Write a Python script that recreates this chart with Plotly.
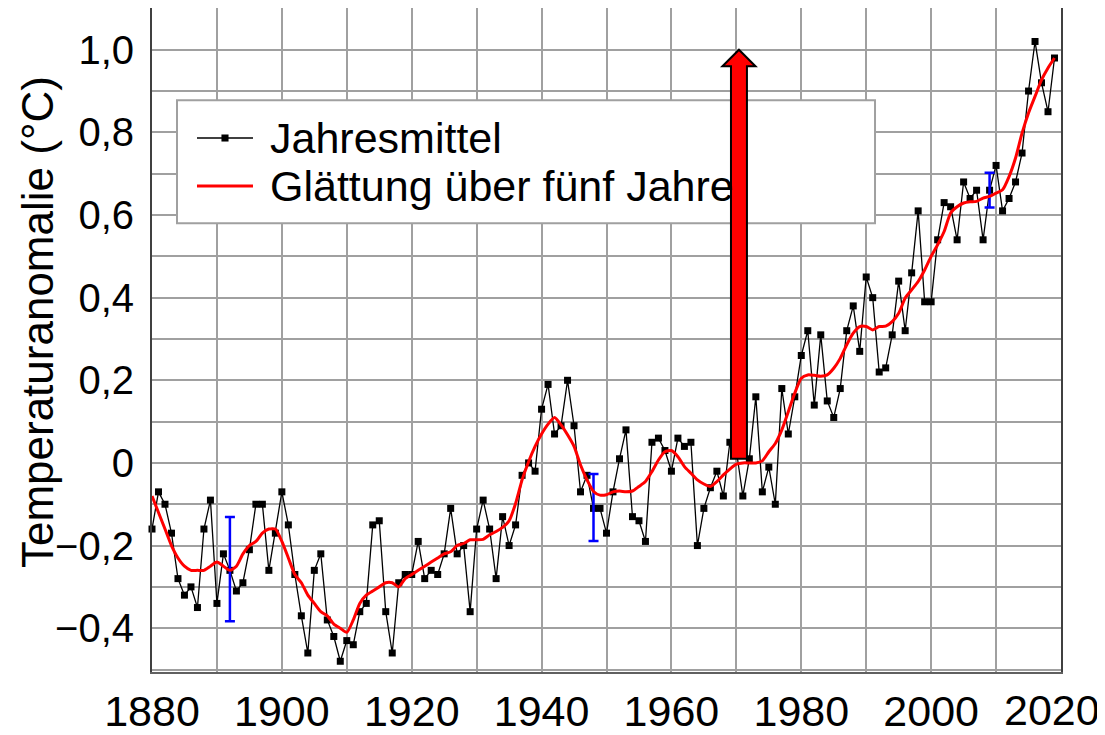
import plotly.graph_objects as go

# ---------------- data ----------------
years = list(range(1880, 2020))
annual = [
    -0.16, -0.07, -0.10, -0.17, -0.28, -0.32, -0.30, -0.35, -0.16, -0.09,
    -0.34, -0.22, -0.26, -0.31, -0.29, -0.21, -0.10, -0.10, -0.26, -0.17,
    -0.07, -0.15, -0.27, -0.37, -0.46, -0.26, -0.22, -0.38, -0.42, -0.48,
    -0.43, -0.44, -0.36, -0.34, -0.15, -0.14, -0.36, -0.46, -0.29, -0.27,
    -0.27, -0.19, -0.28, -0.26, -0.27, -0.22, -0.11, -0.22, -0.20, -0.36,
    -0.16, -0.09, -0.16, -0.28, -0.13, -0.20, -0.15, -0.03, 0.00, -0.02,
    0.13, 0.19, 0.07, 0.09, 0.20, 0.09, -0.07, -0.03, -0.11, -0.11,
    -0.17, -0.07, 0.01, 0.08, -0.13, -0.14, -0.19, 0.05, 0.06, 0.03,
    -0.02, 0.06, 0.04, 0.05, -0.20, -0.11, -0.06, -0.02, -0.08, 0.05,
    0.03, -0.08, 0.01, 0.16, -0.07, -0.01, -0.10, 0.18, 0.07, 0.16,
    0.26, 0.32, 0.14, 0.31, 0.15, 0.11, 0.18, 0.32, 0.38, 0.27,
    0.45, 0.40, 0.22, 0.23, 0.31, 0.44, 0.32, 0.46, 0.61, 0.39,
    0.39, 0.54, 0.63, 0.62, 0.54, 0.68, 0.64, 0.66, 0.54, 0.66,
    0.72, 0.61, 0.64, 0.68, 0.75, 0.90, 1.02, 0.92, 0.85, 0.98,
]
smooth = [
    -0.08, -0.12, -0.16, -0.20, -0.23, -0.25, -0.26, -0.26, -0.26, -0.25,
    -0.24, -0.25, -0.26, -0.25, -0.22, -0.20, -0.19, -0.17, -0.16, -0.16,
    -0.19, -0.23, -0.27, -0.29, -0.32, -0.34, -0.36, -0.37, -0.39, -0.40,
    -0.41, -0.38, -0.34, -0.32, -0.31, -0.30, -0.29, -0.29, -0.30, -0.28,
    -0.27, -0.26, -0.25, -0.24, -0.23, -0.22, -0.215, -0.20, -0.195, -0.186,
    -0.186, -0.185, -0.174, -0.166, -0.156, -0.14, -0.098, -0.041, 0.003, 0.04,
    0.07, 0.094, 0.11, 0.092, 0.068, 0.04, -0.005, -0.041, -0.069, -0.078,
    -0.077, -0.07, -0.068, -0.07, -0.068, -0.057, -0.045, -0.021, 0.007, 0.027,
    0.03, 0.015, -0.009, -0.025, -0.041, -0.051, -0.057, -0.045, -0.029, -0.015,
    -0.003, 0.0, 0.0, 0.0, 0.005, 0.027, 0.047, 0.08, 0.124, 0.169,
    0.205, 0.213, 0.212, 0.21, 0.213, 0.229, 0.253, 0.286, 0.314, 0.33,
    0.33, 0.322, 0.33, 0.331, 0.342, 0.362, 0.399, 0.419, 0.439, 0.467,
    0.50, 0.528, 0.56, 0.605, 0.62, 0.629, 0.632, 0.633, 0.641, 0.645,
    0.653, 0.661, 0.693, 0.738, 0.798, 0.847, 0.887, 0.927, 0.956, 0.98,
]
err_years = [1892, 1948, 2009]
err_center = [-0.257, -0.108, 0.66]
err_half = [0.126, 0.081, 0.042]

xtick_vals = list(range(1880, 2021, 10))
xtick_labels = [str(v) if (v - 1880) % 20 == 0 else "" for v in xtick_vals]
ytick_vals = [round(-0.5 + 0.1 * i, 1) for i in range(17)]
ytick_labels = {-0.4: "−0,4", -0.2: "−0,2", 0.0: "0", 0.2: "0,2", 0.4: "0,4",
                0.6: "0,6", 0.8: "0,8", 1.0: "1,0"}
ytick_text = [ytick_labels.get(v, "") for v in ytick_vals]

legend_names = ["Jahresmittel", "Glättung über fünf Jahre"]
y_title = "Temperaturanomalie (°C)"

# arrow (annotation) parameters
arrow_year = 1970.4
arrow_bottom = 0.01
arrow_top = 1.0

FONT = "Liberation Sans, Arial, sans-serif"

# the last x label sits at the page edge: draw it separately so it stays visible
last_label = xtick_labels[-1]
xtick_text = xtick_labels[:-1] + [""]

fig = go.Figure()
fig.add_trace(go.Scatter(
    x=years, y=annual, mode="lines+markers", name=legend_names[0],
    line=dict(color="black", width=1.3),
    marker=dict(symbol="square", size=7, color="black"),
    showlegend=False, cliponaxis=False,
))
fig.add_trace(go.Scatter(
    x=err_years, y=err_center, mode="markers", showlegend=False,
    marker=dict(size=1, color="rgba(0,0,0,0)"),
    error_y=dict(type="data", array=err_half, visible=True,
                 color="#0000ff", thickness=2.5, width=5),
))
fig.add_trace(go.Scatter(
    x=years, y=smooth, mode="lines", name=legend_names[1],
    line=dict(color="#ff0000", width=3, shape="spline", smoothing=0.6),
    showlegend=False,
))

# ---- hand-drawn legend (box, symbols, texts) ----
fig.add_shape(type="rect", xref="paper", yref="paper",
              x0=0.0275, x1=0.7954, y0=0.676, y1=0.861,
              line=dict(color="#a0a0a0", width=2), fillcolor="white",
              layer="above")
leg_x0, leg_x1, leg_txt = 0.0495, 0.1111, 0.1276
leg_rows = [0.8042, 0.7319]
fig.add_shape(type="line", xref="paper", yref="paper",
              x0=leg_x0, x1=leg_x1, y0=leg_rows[0], y1=leg_rows[0],
              line=dict(color="black", width=1.3), layer="above")
mx = (leg_x0 + leg_x1) / 2
fig.add_shape(type="rect", xref="paper", yref="paper",
              x0=mx - 0.0039, x1=mx + 0.0039,
              y0=leg_rows[0] - 0.0053, y1=leg_rows[0] + 0.0053,
              line=dict(width=0), fillcolor="black", layer="above")
fig.add_shape(type="line", xref="paper", yref="paper",
              x0=leg_x0, x1=leg_x1, y0=leg_rows[1], y1=leg_rows[1],
              line=dict(color="#ff0000", width=3), layer="above")
for name, ry in zip(legend_names, leg_rows):
    fig.add_annotation(text=name, xref="paper", yref="paper", x=leg_txt, y=ry,
                       xanchor="left", yanchor="middle", showarrow=False,
                       font=dict(family=FONT, size=43, color="black"))

# red arrow
sw = 1.23   # shaft half width (years)
hw = 2.55   # head half width (years)
hl = 0.04   # head length (value units)
ax = arrow_year
path = (f"M {ax - sw},{arrow_bottom} L {ax + sw},{arrow_bottom} "
        f"L {ax + sw},{arrow_top - hl} L {ax + hw},{arrow_top - hl} "
        f"L {ax},{arrow_top} L {ax - hw},{arrow_top - hl} "
        f"L {ax - sw},{arrow_top - hl} Z")
fig.add_shape(type="path", xref="x", yref="y", path=path,
              fillcolor="#ff0000", line=dict(color="black", width=2),
              layer="above")

# y axis title as annotation (positioned like the reference)
fig.add_annotation(text=y_title, xref="paper", yref="paper", x=-0.1265, y=0.527,
                   xanchor="center", yanchor="middle", textangle=-90,
                   showarrow=False, font=dict(family=FONT, size=44, color="black"))

# last x tick label, kept inside the page
fig.add_annotation(text=last_label, xref="paper", yref="paper", x=1.045, y=0,
                   xanchor="right", yanchor="top", yshift=-12, showarrow=False,
                   font=dict(family=FONT, size=43, color="black"))

fig.update_layout(
    width=1105, height=735,
    margin=dict(l=144, r=52, t=0, b=71, autoexpand=False),
    paper_bgcolor="white", plot_bgcolor="white",
    font=dict(family=FONT, color="black", size=40),
    showlegend=False,
    xaxis=dict(
        range=[1880, 2020], tickmode="array", tickvals=xtick_vals,
        ticktext=xtick_text, showgrid=True, gridcolor="#a0a0a0", gridwidth=2,
        zeroline=False, showline=True, linecolor="#606060", linewidth=2,
        mirror=True, ticks="outside", ticklen=0, ticklabelstandoff=0,
        ticklabeloverflow="allow", automargin=False,
        tickfont=dict(family=FONT, size=43),
    ),
    yaxis=dict(
        range=[-0.506, 1.101], tickmode="array", tickvals=ytick_vals,
        ticktext=ytick_text, showgrid=True, gridcolor="#a0a0a0", gridwidth=2,
        zeroline=False, showline=True, linecolor="#404040", linewidth=2,
        mirror=True, ticks="outside", ticklen=0, ticklabelstandoff=8,
        ticklabeloverflow="allow", automargin=False,
        tickfont=dict(family=FONT, size=40),
    ),
)

fig.write_html("out.html")
